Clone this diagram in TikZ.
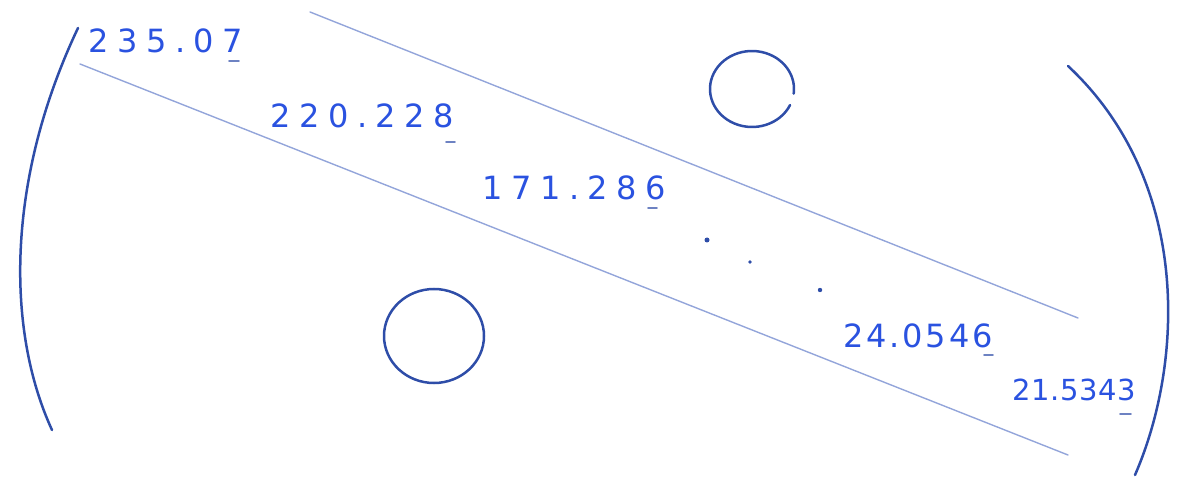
\documentclass[tikz,border=0pt]{standalone}
\usepackage{fontspec}
\usetikzlibrary{calc}
\newfontfamily\handA[LetterSpace=27]{DejaVu Sans}
\newfontfamily\handB[LetterSpace=9]{DejaVu Sans}
\newfontfamily\handC[LetterSpace=2]{DejaVu Sans}
\definecolor{ink}{HTML}{2A52E0}
\definecolor{pen}{HTML}{2E4DA8}
\definecolor{rule}{HTML}{93A5DA}
\tikzset{
  num/.style={text=ink, font=\handA\fontsize{32}{33}\selectfont, inner sep=0pt, anchor=west},
  numtight/.style={num, font=\handB\fontsize{32}{33}\selectfont},
  numsmall/.style={num, font=\handC\fontsize{29}{30}\selectfont},
  bigarc/.style={draw=pen, line width=2.5pt, line cap=round},
  guide/.style={draw=rule, line width=1.4pt, line cap=round},
  ring/.style={draw=pen, line width=2.5pt, line cap=round},
  tick/.style={draw=pen!70, line width=1.8pt, line cap=round},
  speck/.style={fill=pen}
}
\begin{document}
\begin{tikzpicture}[x=1pt,y=-1pt]
\useasboundingbox (0,0) rectangle (1184,481);
% side arcs
\coordinate (la) at (78,28);
\coordinate (lb) at (52,430);
\coordinate (ra) at (1068,66);
\coordinate (rb) at (1135,475);
\draw[bigarc] (la) .. controls (6,180) and (6,330) .. (lb);
\draw[bigarc] (ra) .. controls (1190,180) and (1185,360) .. (rb);
% guide lines
\coordinate (g1a) at (310,12);
\coordinate (g1b) at (1078,318);
\coordinate (g2a) at (80,64);
\coordinate (g2b) at (1068,455);
\draw[guide] (g1a) -- (g1b);
\draw[guide] (g2a) -- (g2b);
% circles
\coordinate (c1) at (752,89);
\coordinate (c2) at (434,336);
\draw[ring] ($(c1)+(25:42 and 38)$) arc[start angle=25, end angle=367, x radius=42, y radius=38];
\draw[ring] (c2) ellipse[x radius=50, y radius=47];
% dots
\fill[speck] (707,240) circle (2.5);
\fill[speck] (750,262) circle (1.8);
\fill[speck] (820,290) circle (2.2);
% numbers
\node[num] (n1) at (88,41) {235.07};
\node[num] (n2) at (270,116) {220.228};
\node[num] (n3) at (482,188) {171.286};
\node[numtight] (n4) at (843,336) {24.0546};
\node[numsmall] (n5) at (1012,390) {21.5343};
% small marks under last digits
\draw[tick] (229,61) -- (239,61);
\draw[tick] (446,142) -- (455,142);
\draw[tick] (648,208) -- (657,208);
\draw[tick] (984,355) -- (993,355);
\draw[tick] (1120,414) -- (1131,414);
\end{tikzpicture}
\end{document}
